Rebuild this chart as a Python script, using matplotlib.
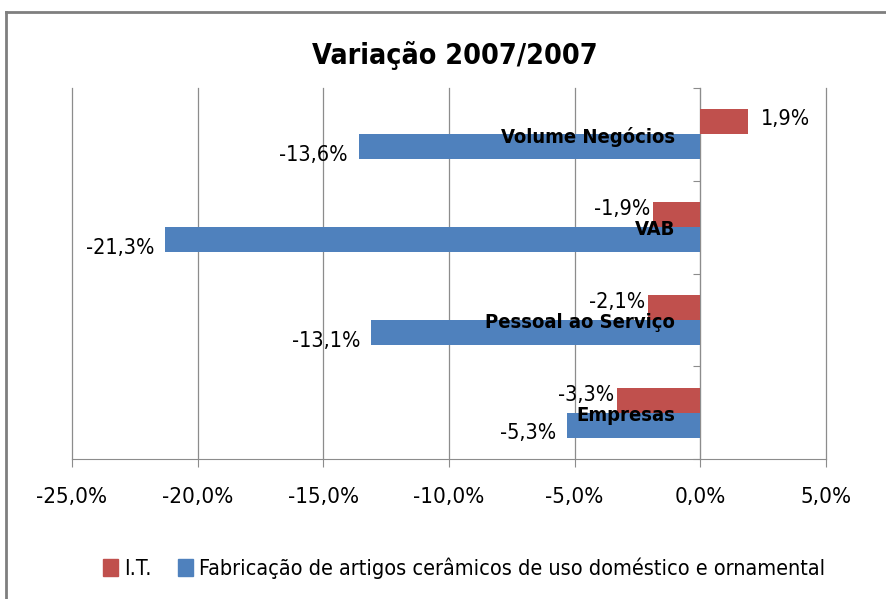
import matplotlib.pyplot as plt
import numpy as np
from matplotlib.lines import Line2D
from matplotlib.patches import Patch

plt.rcParams['font.family'] = ['DejaVu Sans']
plt.rcParams['font.stretch'] = 'condensed'

categories = ["Empresas", "Pessoal ao Serviço", "VAB", "Volume Negócios"]
it_vals = [-3.3, -2.1, -1.9, 1.9]
fab_vals = [-5.3, -13.1, -21.3, -13.6]
series_names = ["I.T.", "Fabricação de artigos cerâmicos de uso doméstico e ornamental"]
xticks = [-25, -20, -15, -10, -5, 0, 5]

red = "#C0504D"
blue = "#4F81BD"
grid_col = "#8C8C8C"

fig = plt.figure(figsize=(8.87, 5.99), dpi=100)
ax = fig.add_axes([72/887, 1-459/599, (826-72)/887, (459-88)/599])

y = np.arange(len(categories))
h = 0.27
ax.barh(y + h/2, it_vals, height=h, color=red, zorder=3)
ax.barh(y - h/2, fab_vals, height=h, color=blue, zorder=3)

def fmt(v):
    return ("%.1f%%" % v).replace(".", ",")

for yy, v in zip(y + h/2, it_vals):
    if v >= 0:
        ax.annotate(fmt(v), (v, yy), xytext=(9, 2), textcoords="offset points",
                    ha="left", va="center", fontsize=15.5, zorder=5)
    else:
        ax.annotate(fmt(v), (v, yy), xytext=(-2, 4), textcoords="offset points",
                    ha="right", va="center", fontsize=15.5, zorder=5)
for yy, v in zip(y - h/2, fab_vals):
    ax.annotate(fmt(v), (v, yy), xytext=(-8, -6), textcoords="offset points",
                ha="right", va="center", fontsize=15.5, zorder=5)

ax.set_xlim(-25, 5)
ax.set_ylim(-0.5, len(categories) - 0.5)
ax.set_xticks(xticks)
ax.set_xticklabels([("%.1f%%" % t).replace(".", ",") for t in xticks], fontsize=16)
ax.tick_params(axis="x", direction="out", length=6, color=grid_col, pad=14)
ax.grid(axis="x", color=grid_col, linewidth=0.9, zorder=0)
for gl in ax.get_xgridlines():
    gl.set_clip_on(False)

# category axis sits on zero
ax.spines["left"].set_position(("data", 0))
ax.spines["left"].set_color(grid_col)
ax.spines["bottom"].set_color(grid_col)
ax.spines["right"].set_visible(False)
ax.spines["top"].set_visible(False)
ax.set_yticks(np.arange(len(categories) + 1) - 0.5)
ax.set_yticklabels([])
ax.tick_params(axis="y", direction="out", length=5, color=grid_col)
for yy, c in zip(y, categories):
    ax.annotate(c, (0, yy), xytext=(-18, -2), textcoords="offset points",
                ha="right", va="center", fontsize=14.5, fontweight="bold", zorder=6)

fig.text(455/887, 1-55/599, "Variação 2007/2007", ha="center", va="center",
         fontsize=20.5, fontweight="bold")

handles = [Patch(color=red), Patch(color=blue)]
fig.legend(handles, series_names, loc="center", bbox_to_anchor=(464/887, 1-568/599),
           ncol=2, frameon=False, fontsize=15.5, handlelength=0.7, handleheight=0.8,
           handletextpad=0.3, columnspacing=1.2)

# outer chart border (cut off on right and bottom)
fig.add_artist(Line2D([6/887, 6/887], [1-12/599, 0], transform=fig.transFigure,
                      color="#7F7F7F", linewidth=2))
fig.add_artist(Line2D([6/887, 1], [1-12/599, 1-12/599], transform=fig.transFigure,
                      color="#7F7F7F", linewidth=2))

fig.savefig("out.png", dpi=100)
